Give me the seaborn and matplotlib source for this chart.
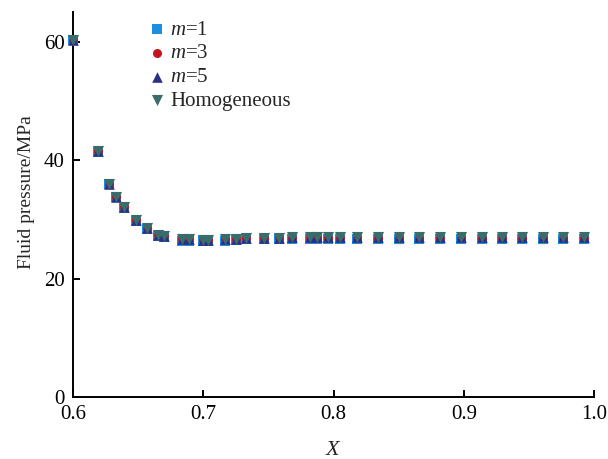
import matplotlib
matplotlib.use("Agg")
import matplotlib.pyplot as plt
import seaborn as sns
import pandas as pd

x_vals = [0.600, 0.619, 0.628, 0.633, 0.639, 0.648, 0.657, 0.665, 0.670,
          0.684, 0.689, 0.700, 0.704, 0.717, 0.725, 0.733, 0.747, 0.758,
          0.768, 0.782, 0.787, 0.796, 0.805, 0.818, 0.834, 0.850, 0.866,
          0.882, 0.898, 0.914, 0.929, 0.945, 0.961, 0.976, 0.992]

p_homog = [60.3, 41.5, 36.0, 33.8, 32.0, 29.8, 28.5, 27.4, 27.2,
           26.6, 26.6, 26.5, 26.5, 26.7, 26.7, 26.8, 26.9, 26.9,
           27.0, 27.0, 27.0, 27.0, 27.0, 27.0, 27.0, 27.0, 27.0,
           27.0, 27.0, 27.0, 27.0, 27.0, 27.0, 27.0, 27.0]
p_m5 = [60.3, 41.5, 36.0, 33.8, 32.0, 29.8, 28.5, 27.4, 27.2,
        26.6, 26.6, 26.5, 26.5, 26.7, 26.7, 26.8, 26.9, 26.9,
        27.0, 27.0, 27.0, 27.0, 27.0, 27.0, 27.0, 27.0, 27.0,
        27.0, 27.0, 27.0, 27.0, 27.0, 27.0, 27.0, 27.0]
p_m3 = [60.3, 41.5, 36.0, 33.8, 32.0, 29.8, 28.5, 27.4, 27.2,
        26.6, 26.6, 26.5, 26.5, 26.7, 26.7, 26.8, 26.9, 26.9,
        26.9, 26.9, 26.9, 26.9, 26.9, 26.9, 26.9, 26.9, 26.9,
        26.9, 26.9, 26.9, 26.9, 26.9, 26.9, 26.9, 26.9]
p_m1 = [60.3, 41.4, 35.9, 33.7, 31.9, 29.7, 28.4, 27.2, 27.0,
        26.4, 26.4, 26.3, 26.3, 26.4, 26.5, 26.6, 26.7, 26.7,
        26.7, 26.7, 26.7, 26.7, 26.7, 26.7, 26.7, 26.7, 26.7,
        26.7, 26.7, 26.7, 26.7, 26.7, 26.7, 26.7, 26.7]

series_labels = ["$m$=1", "$m$=3", "$m$=5", "Homogeneous"]
series_values = [p_m1, p_m3, p_m5, p_homog]
markers = ["s", "o", "^", "v"]
colors = ["#1d8fe0", "#c0161c", "#2c2f86", "#3a6c6c"]
sizes = [42, 42, 58, 64]

x_ticks = [0.6, 0.7, 0.8, 0.9, 1.0]
x_ticklabels = ["0.6", "0.7", "0.8", "0.9", "1.0"]
y_ticks = [0, 20, 40, 60]

sns.set_theme(style="ticks")
plt.rcParams["font.family"] = ["Liberation Serif", "DejaVu Serif"]
plt.rcParams["mathtext.fontset"] = "custom"
plt.rcParams["mathtext.rm"] = "Liberation Serif"
plt.rcParams["mathtext.it"] = "Liberation Serif:italic"

fig = plt.figure(figsize=(6.08, 4.59), dpi=100)
ax = fig.add_axes([73 / 608, 1 - 397 / 459, (594 - 73) / 608, (397 - 12) / 459])

for lab, vals, mk, col, sz in zip(series_labels, series_values, markers, colors, sizes):
    df = pd.DataFrame({"x": x_vals, "p": vals})
    sns.scatterplot(data=df, x="x", y="p", marker=mk, color=col, s=sz,
                    linewidth=0, ax=ax, label=lab, zorder=3, clip_on=False)

ax.set_xlim(0.6, 1.0)
ax.set_ylim(0, 65)
ax.set_xticks(x_ticks)
ax.set_xticklabels(x_ticklabels)
ax.set_yticks(y_ticks)
for s in ["top", "right"]:
    ax.spines[s].set_visible(False)
for s in ["left", "bottom"]:
    ax.spines[s].set_linewidth(1.4)
    ax.spines[s].set_color("black")
ax.tick_params(direction="in", length=5, width=1.4, labelsize=15, colors="black")
ax.tick_params(axis="x", pad=6)
ax.tick_params(axis="y", pad=6)
ax.set_xlabel("$X$", fontsize=16, labelpad=12)
ax.set_ylabel("Fluid pressure/MPa", fontsize=14)
ax.yaxis.set_label_coords(-0.073, 0.532)

leg = ax.legend(loc="upper left", bbox_to_anchor=(0.126, 1.006), frameon=False,
                fontsize=15, borderpad=0, handlelength=0.8, handletextpad=0.2,
                labelspacing=0.2, markerscale=1.0)

fig.savefig("out.png", dpi=100)
